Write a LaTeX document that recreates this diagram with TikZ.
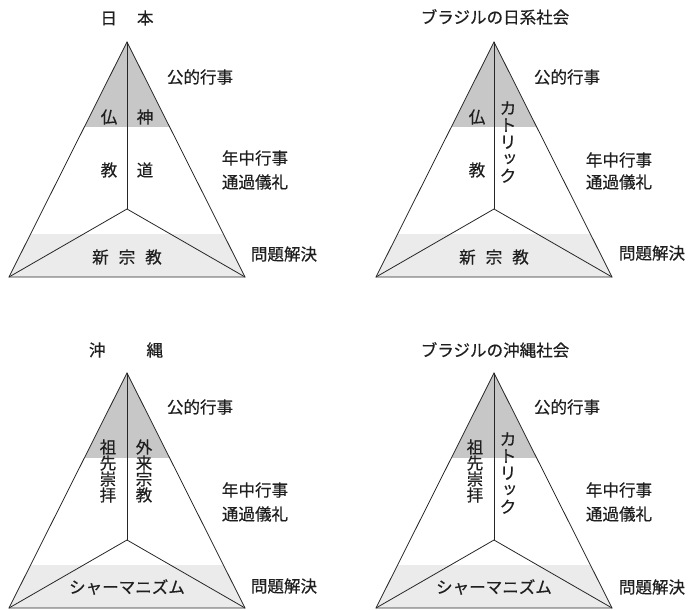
\documentclass[tikz,border=0pt]{standalone}
\usepackage{fontspec}
\setmainfont[FakeBold=0.5]{Noto Sans CJK JP}
\newfontfamily\vfont[RawFeature=+vert,FakeBold=0.5]{Noto Sans CJK JP}
\tikzset{
  edge/.style={draw=black!85, line width=0.8bp},
  darkband/.style={fill=black!22},
  lightband/.style={fill=black!8},
  lbl/.style={font=\fontsize{16.6}{20}\selectfont, inner sep=0pt, text=black!88},
  vlbl/.style={font=\fontsize{16.6}{16}\selectfont, inner sep=0pt, align=center, text=black!88},
  vlblk/.style={font=\fontsize{16.6}{17}\selectfont, inner sep=0pt, align=center, text=black!88},
  trishape/.pic={
    \begin{scope}
      \clip (0,0) -- (-118,235) -- (118,235) -- cycle;
      \fill[darkband] (-125,-2) rectangle (125,85);
      \fill[lightband] (-125,192) rectangle (125,237);
    \end{scope}
    \coordinate (-apex) at (0,0);
    \coordinate (-bl) at (-118,235);
    \coordinate (-br) at (118,235);
    \coordinate (-c) at (0,167);
    \draw[edge] (-apex) -- (-bl) -- (-br) -- cycle;
    \draw[edge] (-apex) -- (-c);
    \draw[edge] (-bl) -- (-c) -- (-br);
  }
}
\begin{document}
\begin{tikzpicture}[x=1bp, y=-1bp]
\useasboundingbox (0,0) rectangle (691,610);

% ---------- top left: Japan ----------
\pic (tl) at (127,42) {trishape};
\node[lbl] (tlT) at (127,18) {日\hspace{20bp}本};
\node[lbl] (tl1) at (109,117) {仏};
\node[lbl] (tl2) at (145,117) {神};
\node[lbl] (tl3) at (109,170) {教};
\node[lbl] (tl4) at (145,170) {道};
\node[lbl] (tl5) at (127,257) {新\hspace{10bp}宗\hspace{10bp}教};
\node[lbl] (tlA) at (200,77) {公的行事};
\node[lbl] (tlB) at (255,158) {年中行事};
\node[lbl] (tlC) at (255,182) {通過儀礼};
\node[lbl] (tlD) at (284,254) {問題解決};

% ---------- top right: Brazil Japanese ----------
\pic (tr) at (494,42) {trishape};
\node[lbl] (trT) at (495,17) {ブラジルの日系社会};
\node[lbl] (tr1) at (477,117) {仏};
\node[lbl] (tr3) at (477,170) {教};
\node[vlblk] (tr2) at (508,142) {カ\\ト\\リ\\{\vfont ッ}\\ク};
\node[lbl] (tr5) at (494,257) {新\hspace{10bp}宗\hspace{10bp}教};
\node[lbl] (trA) at (567,77) {公的行事};
\node[lbl] (trB) at (619,160) {年中行事};
\node[lbl] (trC) at (619,182) {通過儀礼};
\node[lbl] (trD) at (652,253) {問題解決};

% ---------- bottom left: Okinawa ----------
\pic (bl) at (127,373) {trishape};
\node[lbl] (blT) at (126,350) {沖\hspace{41bp}縄};
\node[vlbl] (bl1) at (108,471) {祖\\先\\崇\\拝};
\node[vlbl] (bl2) at (144,471) {外\\来\\宗\\教};
\node[lbl] (bl5) at (127,587) {シャーマニズム};
\node[lbl] (blA) at (200,407) {公的行事};
\node[lbl] (blB) at (255,490) {年中行事};
\node[lbl] (blC) at (255,514) {通過儀礼};
\node[lbl] (blD) at (284,586) {問題解決};

% ---------- bottom right: Brazil Okinawan ----------
\pic (br) at (494,373) {trishape};
\node[lbl] (brT) at (495,350) {ブラジルの沖縄社会};
\node[vlbl] (br1) at (475,471) {祖\\先\\崇\\拝};
\node[vlblk] (br2) at (508,473) {カ\\ト\\リ\\{\vfont ッ}\\ク};
\node[lbl] (br5) at (494,587) {シャーマニズム};
\node[lbl] (brA) at (567,407) {公的行事};
\node[lbl] (brB) at (619,490) {年中行事};
\node[lbl] (brC) at (619,514) {通過儀礼};
\node[lbl] (brD) at (652,587) {問題解決};
\end{tikzpicture}
\end{document}
